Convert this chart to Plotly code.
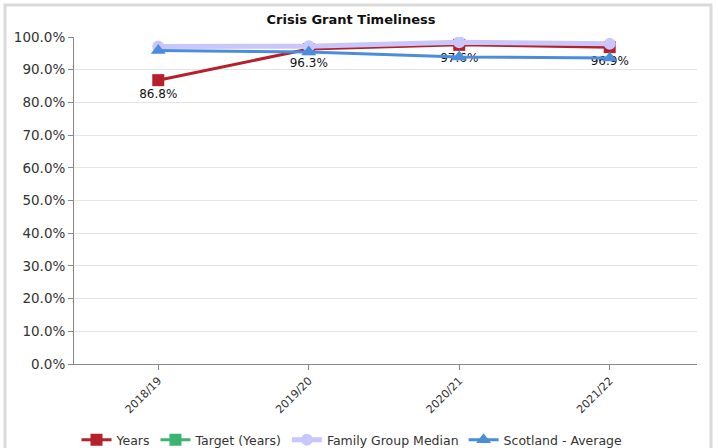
import plotly.graph_objects as go

# Crisis Grant timeliness, % by year
years = ['2018/19', '2019/20', '2020/21', '2021/22']
council = [86.8, 96.3, 97.6, 96.9]
target = [None, None, None, None]
family_median = [97.1, 97.2, 98.4, 97.9]
scotland_avg = [95.9, 95.4, 93.9, 93.6]
y_ticks = [0, 10, 20, 30, 40, 50, 60, 70, 80, 90, 100]

FONT = 'DejaVu Sans'

fig = go.Figure()

fig.add_trace(go.Scatter(
    x=years, y=council, name='Years', mode='lines+markers+text',
    line=dict(color='#b5202a', width=3),
    marker=dict(symbol='square', size=12, color='#b5202a'),
    text=[f'{v:.1f}%' for v in council], textposition='bottom center',
    textfont=dict(family=FONT, size=12, color='#111111'),
))
fig.add_trace(go.Scatter(
    x=years, y=target, name='Target (Years)', mode='lines+markers',
    line=dict(color='#3cb371', width=3),
    marker=dict(symbol='square', size=12, color='#3cb371'),
))
fig.add_trace(go.Scatter(
    x=years, y=family_median, name='Family Group Median', mode='lines+markers',
    line=dict(color='#c8c6fb', width=5),
    marker=dict(symbol='circle', size=12, color='#c8c6fb'),
))
fig.add_trace(go.Scatter(
    x=years, y=scotland_avg, name='Scotland - Average', mode='lines+markers',
    line=dict(color='#4a8ddc', width=3),
    marker=dict(symbol='triangle-up', size=13, color='#4a8ddc'),
))

fig.update_layout(
    width=718, height=448,
    margin=dict(l=74, r=21, t=37, b=84),
    paper_bgcolor='white', plot_bgcolor='white',
    font=dict(family=FONT, color='#333333'),
    title=dict(text='<b>Crisis Grant Timeliness</b>', x=351 / 718, xanchor='center',
               y=1 - 19 / 448, yanchor='middle',
               font=dict(family=FONT, size=13, color='#111111')),
    showlegend=True,
    legend=dict(orientation='h', xref='container', yref='container',
                x=352 / 718, xanchor='center',
                y=1 - 440 / 448, yanchor='middle',
                font=dict(family=FONT, size=12.5, color='#333333'),
                itemwidth=30, tracegroupgap=0),
    xaxis=dict(
        range=[-0.56, 3.58], tickangle=-45, automargin=False,
        tickfont=dict(family=FONT, size=11, color='#333333'),
        showline=True, linecolor='#888888', linewidth=1,
        ticks='outside', ticklen=5, tickcolor='#888888',
        showgrid=False, zeroline=False,
    ),
    yaxis=dict(
        range=[0, 100], tickvals=y_ticks, automargin=False,
        ticktext=[f'{v:.1f}%' for v in y_ticks],
        tickfont=dict(family=FONT, size=13.5, color='#333333'),
        showline=True, linecolor='#888888', linewidth=1,
        ticks='outside', ticklen=5, tickcolor='#888888',
        showgrid=True, gridcolor='#e4e4e4', gridwidth=1, zeroline=False,
    ),
    shapes=[dict(type='rect', xref='paper', yref='paper',
                 x0=(5 - 74) / 623, x1=(711 - 74) / 623,
                 y0=-0.4, y1=(364 - 5) / 327,
                 line=dict(color='#dadada', width=3), layer='below')],
)

# drop the default page margin so the figure sits at the window corner
fig.write_html('out.html', config={'displayModeBar': False},
               post_script="document.body.style.margin='0';")
